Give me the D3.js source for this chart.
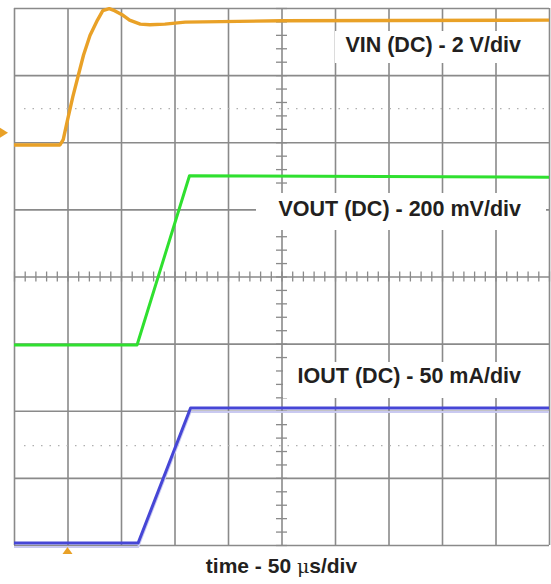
<!DOCTYPE html>
<html>
<head>
<meta charset="utf-8">
<title>Startup waveform</title>
<script src="https://cdn.jsdelivr.net/npm/d3@7"></script>
<style>
  body { margin: 0; background: #fff; }
  svg { display: block; }
  .lbl { font-family: "Liberation Sans", Arial, sans-serif; font-weight: bold; fill: #231f20; }
</style>
</head>
<body>
<div id="container"></div>
<script>
// time in us (50 us/div), level in scope divisions (0 = bottom line, 8 = top line)
var vinTime  = [0, 43, 46, 50, 55, 60, 65, 71, 78, 83, 89, 94, 101, 108, 118, 127, 141, 160, 250, 500];
var vinLevel = [5.96, 5.96, 6.04, 6.33, 6.68, 6.99, 7.30, 7.59, 7.82, 7.96, 7.99, 7.96, 7.90, 7.82, 7.76, 7.75, 7.76, 7.79, 7.81, 7.82];
var voutTime  = [0, 115, 164, 500];
var voutLevel = [2.98, 2.98, 5.50, 5.48];
var ioutTime  = [0, 116, 165, 500];
var ioutLevel = [0.03, 0.03, 2.04, 2.04];
var timeTicks = d3.range(0, 501, 50);
var divTicks = d3.range(0, 9, 1);
var dottedLevels = [1.48, 6.5];
var trigLevel = 6.14;
var trigTime = 50;
var labels = ["VIN (DC) - 2 V/div", "VOUT (DC) - 200 mV/div", "IOUT (DC) - 50 mA/div"];

var W = 551, H = 584;
var LEFT = 14, RIGHT = 549, TOP = 8, BOTTOM = 545;
var orange = '#e9a127', green = '#2fe02f', blue = '#4646d6', gridc = '#8a8a8a';

var svg = d3.select("#container").append("svg")
    .attr("width", W).attr("height", H);

var x = d3.scaleLinear().domain([0, 500]).range([LEFT, RIGHT]);
var y = d3.scaleLinear().domain([0, 8]).range([BOTTOM, TOP]);

// major grid
svg.append("g")
    .attr("transform", "translate(0," + BOTTOM + ")")
    .call(d3.axisBottom(x).tickValues(timeTicks).tickSize(-(BOTTOM - TOP)).tickFormat(""))
    .call(function(g) { g.select(".domain").remove(); })
    .selectAll("line").attr("stroke", gridc).attr("stroke-width", 1.6);
svg.append("g")
    .attr("transform", "translate(" + LEFT + ",0)")
    .call(d3.axisLeft(y).tickValues(divTicks).tickSize(-(RIGHT - LEFT)).tickFormat(""))
    .call(function(g) { g.select(".domain").remove(); })
    .selectAll("line").attr("stroke", gridc).attr("stroke-width", 1.6);

// minor ticks on the centre axes
svg.append("g")
    .attr("transform", "translate(0," + (y(4) + 5) + ")")
    .call(d3.axisBottom(x).tickValues(d3.range(0, 501, 10)).tickSize(-10).tickFormat(""))
    .call(function(g) { g.select(".domain").remove(); })
    .selectAll("line").attr("stroke", gridc).attr("stroke-width", 1.3);
svg.append("g")
    .attr("transform", "translate(" + (x(250) - 5.5) + ",0)")
    .call(d3.axisRight(y).tickValues(d3.range(0, 8.01, 0.2)).tickSize(11).tickFormat(""))
    .call(function(g) { g.select(".domain").remove(); })
    .selectAll("line").attr("stroke", gridc).attr("stroke-width", 1.3);

// dotted marker lines
svg.selectAll(".dot").data(dottedLevels).enter().append("line")
    .attr("x1", LEFT + 10).attr("x2", RIGHT - 5)
    .attr("y1", function(d) { return y(d); }).attr("y2", function(d) { return y(d); })
    .attr("stroke", "#b0b0b0").attr("stroke-width", 1.2)
    .attr("stroke-dasharray", "1.5,7");

// white label boxes
var boxes = [[335, 31, 211, 32], [256, 193, 290, 37], [283, 362, 263, 36]];
svg.selectAll(".box").data(boxes).enter().append("rect")
    .attr("x", function(d) { return d[0]; }).attr("y", function(d) { return d[1]; })
    .attr("width", function(d) { return d[2]; }).attr("height", function(d) { return d[3]; })
    .attr("fill", "#fff");

// traces
var line = d3.line().x(function(d) { return x(d[0]); }).y(function(d) { return y(d[1]); });
function trace(t, v, color, w) {
    svg.append("path")
        .datum(d3.zip(t, v))
        .attr("d", line)
        .attr("fill", "none")
        .attr("stroke", color)
        .attr("stroke-width", w)
        .attr("stroke-linejoin", "round");
}
trace(ioutTime, ioutLevel.map(function(v) { return v - 0.06; }), '#c9c9f0', 2);
trace(vinTime, vinLevel, orange, 3.4);
trace(voutTime, voutLevel, green, 3);
trace(ioutTime, ioutLevel, blue, 3);

// trigger markers
var ty = y(trigLevel);
svg.append("path")
    .attr("d", "M0," + (ty - 5) + " L8," + ty + " L0," + (ty + 5) + "Z")
    .attr("fill", orange);
var tx = x(trigTime);
svg.append("path")
    .attr("d", "M" + (tx - 5) + "," + (BOTTOM + 9) + " L" + tx + "," + (BOTTOM + 2) + " L" + (tx + 5) + "," + (BOTTOM + 9) + "Z")
    .attr("fill", orange);

// channel labels
var baselines = [52, 216, 383];
svg.selectAll(".chl").data(labels).enter().append("text")
    .attr("class", "lbl")
    .attr("x", 521)
    .attr("y", function(d, i) { return baselines[i]; })
    .attr("text-anchor", "end")
    .style("font-size", "21.5px")
    .text(function(d) { return d; });

var tl = svg.append("text")
    .attr("class", "lbl")
    .attr("x", x(250))
    .attr("y", 573)
    .attr("text-anchor", "middle")
    .style("font-size", "21px");
tl.append("tspan").text("time - 50 ");
tl.append("tspan").style("font-weight", "normal").style("font-family", "'DejaVu Serif', serif").style("font-size", "19px").text("\u03bc");
tl.append("tspan").text("s/div");
</script>
</body>
</html>
